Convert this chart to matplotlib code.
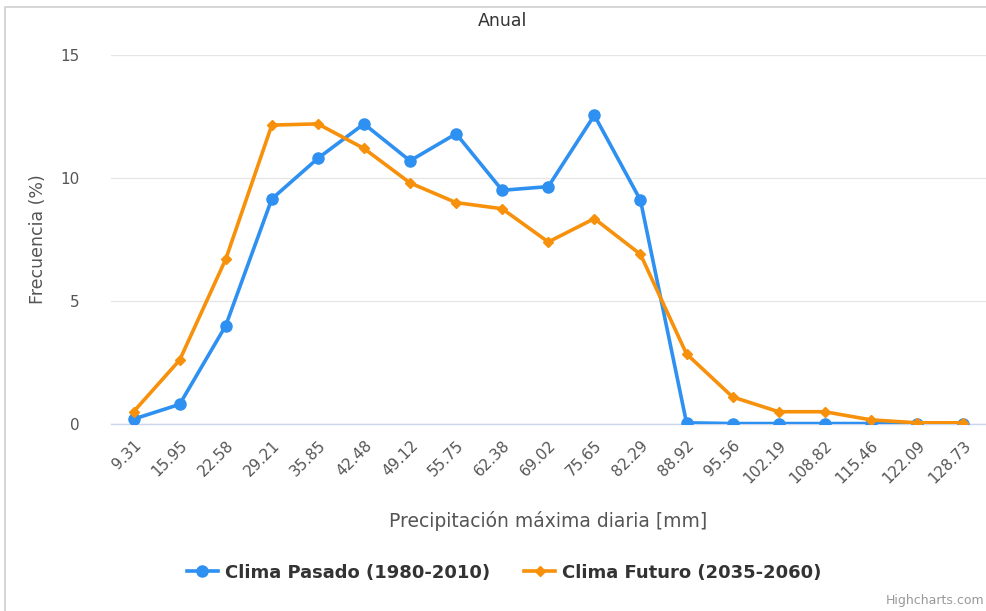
#!/usr/bin/env python3
"""Annual max daily precipitation frequency: past vs future climate."""

import matplotlib
matplotlib.use('Agg')
import matplotlib.pyplot as plt
from matplotlib.patches import Rectangle

# Data
categories = ['9.31', '15.95', '22.58', '29.21', '35.85', '42.48', '49.12', '55.75',
              '62.38', '69.02', '75.65', '82.29', '88.92', '95.56', '102.19',
              '108.82', '115.46', '122.09', '128.73']
pasado = [0.2, 0.8, 4.0, 9.15, 10.8, 12.2, 10.7, 11.8, 9.5, 9.65, 12.55, 9.1,
          0.05, 0.02, 0.02, 0.02, 0.02, 0.02, 0.02]
futuro = [0.5, 2.6, 6.7, 12.15, 12.2, 11.2, 9.8, 9.0, 8.75, 7.4, 8.35, 6.9,
          2.85, 1.1, 0.5, 0.5, 0.17, 0.05, 0.05]

BLUE = '#2E90F0'
ORANGE = '#F7900A'
TEXT = '#555555'

plt.rcParams['font.family'] = ['DejaVu Sans']

fig = plt.figure(figsize=(9.87, 6.11), dpi=100)
ax = fig.add_axes([0.112, 0.306, 0.887, 0.604])

x = list(range(len(categories)))
ax.plot(x, pasado, color=BLUE, lw=2.6, marker='o', ms=8,
        label='Clima Pasado (1980-2010)', zorder=3)
ax.plot(x, futuro, color=ORANGE, lw=2.6, marker='D', ms=5.5,
        label='Clima Futuro (2035-2060)', zorder=3)

ax.set_xlim(-0.5, len(categories) - 0.5)
ax.set_ylim(0, 15)
ax.set_yticks([0, 5, 10, 15])
ax.set_xticks(x)
ax.set_xticklabels(categories, rotation=45, ha='right', rotation_mode='anchor')
ax.tick_params(axis='both', length=0, labelsize=11, colors=TEXT)
ax.tick_params(axis='y', pad=22)
ax.tick_params(axis='x', pad=10)

ax.grid(axis='y', color='#e6e6e6', lw=1)
ax.set_axisbelow(True)
for side in ['top', 'right', 'left']:
    ax.spines[side].set_visible(False)
ax.spines['bottom'].set_color('#ccd6eb')
ax.spines['bottom'].set_zorder(1)
ax.spines['bottom'].set_linewidth(1)

ax.set_ylabel('Frecuencia (%)', fontsize=12.5, color=TEXT, labelpad=10)
ax.set_xlabel('Precipitación máxima diaria [mm]', fontsize=13.5, color=TEXT, labelpad=18)
fig.text(0.509, 0.965, 'Anual', ha='center', va='center', fontsize=12.5, color='#333333')

leg = fig.legend(loc='center', bbox_to_anchor=(0.511, 0.063), ncol=2, frameon=False,
                 prop={'weight': 'bold', 'size': 13}, handlelength=1.7,
                 columnspacing=1.9, handletextpad=0.4)
for t in leg.get_texts():
    t.set_color('#333333')

fig.text(0.997, 0.017, 'Highcharts.com', ha='right', va='center', fontsize=9, color='#999999')

# light frame of the screenshot
fig.patches.append(Rectangle((0.005, -0.01), 1.0, 0.998, transform=fig.transFigure,
                             fill=False, edgecolor='#d0d0d0', lw=1.2))

fig.savefig('out.png', dpi=100)
